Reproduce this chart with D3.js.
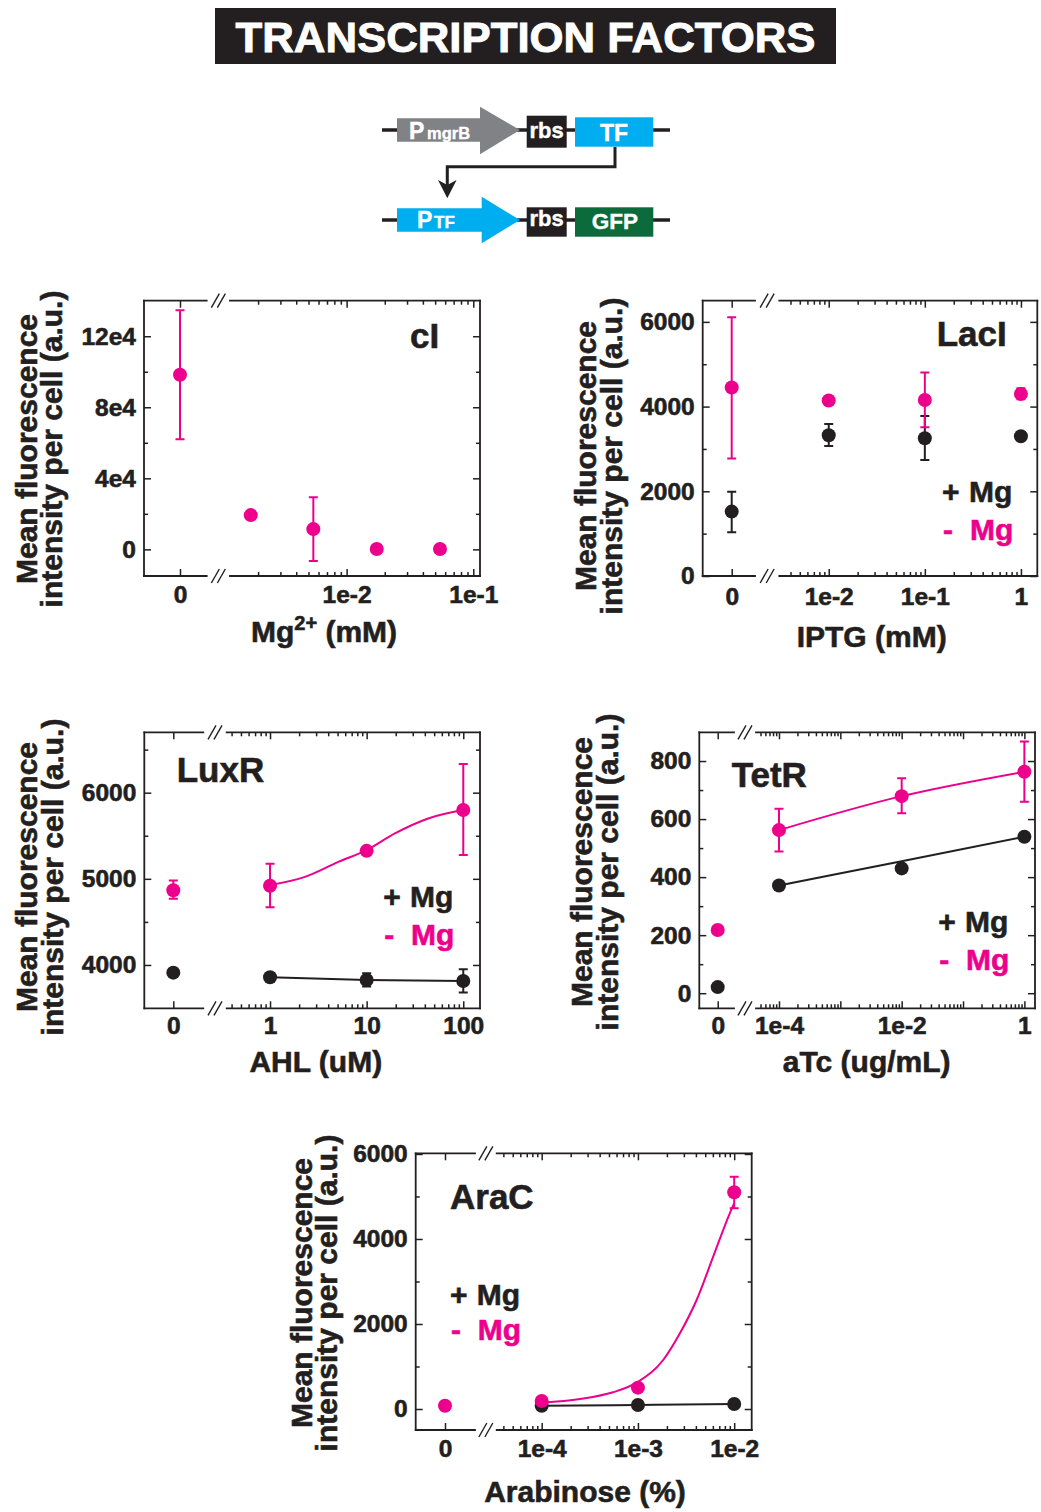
<!DOCTYPE html>
<html>
<head>
<meta charset="utf-8">
<script src="https://cdn.jsdelivr.net/npm/d3@7"></script>
<style>
body { margin: 0; background: #fff; }
svg text { font-family: "Liberation Sans", Arial, Helvetica, sans-serif; font-weight: bold; fill: #231f20; stroke: #231f20; stroke-width: 0.6px; }
</style>
</head>
<body>
<svg id="chart" width="1041" height="1512"></svg>
<script>
// ---- data ----
const pageTitle = "TRANSCRIPTION FACTORS";
const yTitleLines = ["Mean fluorescence", "intensity per cell (a.u.)"];

// cI (only one series)
const ciDose = [0, 1.75e-3, 5.46e-3, 1.73e-2, 5.46e-2];
const ciMinus = [98300, 19300, 11400, 200, 200];
const ciMinusLo = [62000, null, -6500, null, null];
const ciMinusHi = [134600, null, 29300, null, null];
const ciYTicks = [0, 40000, 80000, 120000];
const ciYLabels = ["0", "4e4", "8e4", "12e4"];
const ciYMinor = [20000, 60000, 100000];
const ciXTicks = [1e-2, 1e-1];
const ciXLabels = ["1e-2", "1e-1"];

// LacI
const lacDose = [0, 1e-2, 1e-1, 1];
const lacPlus = [1520, 3323, 3252, 3299];
const lacPlusLo = [1031, 3071, 2740, null];
const lacPlusHi = [1992, 3590, 3780, null];
const lacMinus = [4450, 4142, 4157, 4299];
const lacMinusLo = [2772, null, 3512, 4173];
const lacMinusHi = [6110, null, 4803, 4433];
const lacYTicks = [0, 2000, 4000, 6000];
const lacYLabels = ["0", "2000", "4000", "6000"];
const lacYMinor = [1000, 3000, 5000];
const lacXTicks = [1e-2, 1e-1, 1];
const lacXLabels = ["1e-2", "1e-1", "1"];

// LuxR
const luxDose = [0, 1, 10, 100];
const luxPlus = [3911, 3857, 3826, 3814];
const luxPlusLo = [null, null, 3749, 3679];
const luxPlusHi = [null, null, 3903, 3950];
const luxMinus = [4868, 4919, 5325, 5799];
const luxMinusLo = [4768, 4671, null, 5276];
const luxMinusHi = [4981, 5174, null, 6333];
const luxFitDose = [1, 2.3, 5.1, 10, 19.6, 43.4, 100];
const luxFitMinus = [4928, 5023, 5197, 5333, 5527, 5701, 5798];
const luxYTicks = [4000, 5000, 6000];
const luxYLabels = ["4000", "5000", "6000"];
const luxYMinor = [4500, 5500, 6500];
const luxXTicks = [1, 10, 100];
const luxXLabels = ["1", "10", "100"];

// TetR
const tetDose = [0, 1e-4, 1e-2, 1];
const tetPlus = [21, 371, 430, 539];
const tetMinus = [218, 562, 679, 763];
const tetMinusLo = [null, 488, 620, 660];
const tetMinusHi = [null, 636, 741, 867];
const tetFitDose = [1e-4, 1e-2, 1];
const tetFitPlus = [371, 455, 539];
const tetYTicks = [0, 200, 400, 600, 800];
const tetYLabels = ["0", "200", "400", "600", "800"];
const tetYMinor = [100, 300, 500, 700];
const tetXTicks = [1e-4, 1e-2, 1];
const tetXLabels = ["1e-4", "1e-2", "1"];

// AraC
const araDose = [0, 1e-4, 1e-3, 1e-2];
const araPlus = [null, 78, 94, 118];
const araMinus = [78, 188, 502, 5098];
const araMinusLo = [null, null, null, 4722];
const araMinusHi = [null, null, null, 5467];
const araFitDose = [1e-4, 2.5e-4, 5.5e-4, 1e-3, 1.83e-3, 2.73e-3, 4.07e-3, 6.05e-3, 9e-3, 1e-2];
const araFitMinus = [148, 235, 393, 640, 1153, 1781, 2565, 3584, 4604, 4840];
const araYTicks = [0, 2000, 4000, 6000];
const araYLabels = ["0", "2000", "4000", "6000"];
const araYMinor = [1000, 3000, 5000];
const araXTicks = [1e-4, 1e-3, 1e-2];
const araXLabels = ["1e-4", "1e-3", "1e-2"];

const PINK = "#ec008c";
const BLACK = "#231f20";

const svg = d3.select("#chart");

// ---- title ----
svg.append("rect").attr("x", 215).attr("y", 8).attr("width", 621).attr("height", 56).attr("fill", BLACK);
svg.append("text").attr("x", 525.5).attr("y", 52).attr("text-anchor", "middle")
    .attr("font-size", 42).attr("textLength", 580).attr("lengthAdjust", "spacingAndGlyphs")
    .style("fill", "#fff").style("stroke", "#fff").style("stroke-width", "0.9px").text(pageTitle);

// ---- genetic circuit schematic ----
function drawCircuit() {
    const g = svg.append("g");
    // backbones
    [130, 220].forEach(yy => g.append("line").attr("x1", 382).attr("x2", 670).attr("y1", yy).attr("y2", yy)
        .attr("stroke", BLACK).attr("stroke-width", 3.5));
    // promoter arrows
    g.append("path").attr("d", "M397,118.3H480V106.7L520,130L480,154.3V141.7H397Z").attr("fill", "#808285");
    g.append("path").attr("d", "M397,208.3H481.7V196.7L520,220L481.7,243.3V231.7H397Z").attr("fill", "#00aeef");
    // rbs boxes
    [[115.7, 147.7], [207.3, 236.7]].forEach(([a, b]) => g.append("rect").attr("x", 526.7).attr("y", a)
        .attr("width", 40).attr("height", b - a).attr("fill", BLACK));
    g.append("rect").attr("x", 575).attr("y", 117.3).attr("width", 78.3).attr("height", 29.4).attr("fill", "#00aeef");
    g.append("rect").attr("x", 575).attr("y", 207.3).attr("width", 78.3).attr("height", 29.4).attr("fill", "#0b6b3a");
    // regulation arrow
    g.append("path").attr("d", "M615,147V166.7H447.3V186").attr("fill", "none").attr("stroke", BLACK).attr("stroke-width", 3);
    g.append("path").attr("d", "M438,180L447.3,198.3L456.6,180L447.3,185Z").attr("fill", BLACK);
    // labels
    const lab = (x, y, size, txt, anchor) => g.append("text").attr("x", x).attr("y", y).attr("font-size", size)
        .attr("text-anchor", anchor || "start").style("fill", "#fff").style("stroke", "#fff").style("stroke-width", "0.4px").text(txt);
    lab(409, 138.5, 23, "P");
    lab(427, 138.5, 16.5, "mgrB");
    lab(546.7, 137.7, 22, "rbs", "middle");
    lab(614, 140.7, 23, "TF", "middle");
    lab(417, 227.7, 23, "P");
    lab(434, 227.7, 17, "TF");
    lab(546.7, 225.7, 22, "rbs", "middle");
    lab(615, 229, 22.5, "GFP", "middle");
}
drawCircuit();

// ---- panel layouts ----
const panels = [
    {
        name: "cI", box: [144, 480, 300.7, 576], zeroX: 180, gap: [206.7, 230], logDomain: [1.2e-3, 0.113],
        yDomain: [-15000, 140000], yTicks: ciYTicks, yLabels: ciYLabels, yMinor: ciYMinor,
        xTicks: ciXTicks, xLabels: ciXLabels, xPad: 10,
        title: [410, 348], xTitle: [324, 641.7], yTitle: [37, 62, 449], legend: null,
        series: [{ dose: ciDose, vals: ciMinus, lo: ciMinusLo, hi: ciMinusHi, color: PINK }],
        lines: []
    },
    {
        name: "LacI", box: [702.7, 1037.3, 300.7, 576], zeroX: 731.7, gap: [755, 779.3], logDomain: [3.06e-3, 1.48],
        yDomain: [0, 6500], yTicks: lacYTicks, yLabels: lacYLabels, yMinor: lacYMinor,
        xTicks: lacXTicks, xLabels: lacXLabels, xPad: 12,
        title: [936.7, 346], xTitle: [871.7, 646.7], yTitle: [596, 622, 456], legend: [942, 969, 501.7, 540],
        series: [
            { dose: lacDose, vals: lacPlus, lo: lacPlusLo, hi: lacPlusHi, color: BLACK },
            { dose: lacDose, vals: lacMinus, lo: lacMinusLo, hi: lacMinusHi, color: PINK }
        ],
        lines: []
    },
    {
        name: "LuxR", box: [144.3, 480, 732.3, 1008.3], zeroX: 173.3, gap: [203.3, 226.7], logDomain: [0.356, 149],
        yDomain: [3497, 6701], yTicks: luxYTicks, yLabels: luxYLabels, yMinor: luxYMinor,
        xTicks: luxXTicks, xLabels: luxXLabels, xPad: 8,
        title: [176.7, 781.7], xTitle: [315.8, 1071.7], yTitle: [37, 63, 877], legend: [383.3, 410, 906.7, 945],
        series: [
            { dose: luxDose, vals: luxPlus, lo: luxPlusLo, hi: luxPlusHi, color: BLACK },
            { dose: luxDose, vals: luxMinus, lo: luxMinusLo, hi: luxMinusHi, color: PINK }
        ],
        lines: [
            { dose: luxDose.slice(1), vals: luxPlus.slice(1), color: BLACK },
            { dose: luxFitDose, vals: luxFitMinus, color: PINK }
        ]
    },
    {
        name: "TetR", box: [699.3, 1035, 732.3, 1008.3], zeroX: 717.7, gap: [734, 756], logDomain: [4.22e-5, 1.49],
        yDomain: [-52, 899], yTicks: tetYTicks, yLabels: tetYLabels, yMinor: tetYMinor,
        xTicks: tetXTicks, xLabels: tetXLabels, xPad: 8,
        title: [731.7, 786.7], xTitle: [866.7, 1071.7], yTitle: [592, 618, 872], legend: [938.3, 965, 931.7, 970],
        series: [
            { dose: tetDose, vals: tetPlus, lo: null, hi: null, color: BLACK },
            { dose: tetDose, vals: tetMinus, lo: tetMinusLo, hi: tetMinusHi, color: PINK }
        ],
        lines: [
            { dose: tetFitDose, vals: tetFitPlus, color: BLACK },
            { dose: tetDose.slice(1), vals: tetMinus.slice(1), color: PINK }
        ]
    },
    {
        name: "AraC", box: [415.7, 751.7, 1153.3, 1430], zeroX: 445, gap: [475, 496.7], logDomain: [3.41e-5, 1.52e-2],
        yDomain: [-494, 6016], yTicks: araYTicks, yLabels: araYLabels, yMinor: araYMinor,
        xTicks: araXTicks, xLabels: araXLabels, xPad: 10,
        title: [450, 1209.3], xTitle: [585, 1501.7], yTitle: [312, 337, 1293], legend: [450, 476.7, 1305, 1340],
        series: [
            { dose: araDose, vals: araPlus, lo: null, hi: null, color: BLACK },
            { dose: araDose, vals: araMinus, lo: araMinusLo, hi: araMinusHi, color: PINK }
        ],
        lines: [
            { dose: araDose.slice(1), vals: araPlus.slice(1), color: BLACK },
            { dose: araFitDose, vals: araFitMinus, color: PINK }
        ]
    }
];

const xAxisTitles = {
    LacI: "IPTG (mM)", LuxR: "AHL (uM)", TetR: "aTc (ug/mL)", AraC: "Arabinose (%)"
};

function styleAxis(sel, size) {
    sel.select(".domain").remove();
    sel.attr("font-family", null).attr("font-size", size || 24.5);
    sel.selectAll("line").attr("stroke", BLACK).attr("stroke-width", 1.5);
}

function drawPanel(p) {
    const g = svg.append("g");
    const [x0, x1, y0, y1] = p.box;
    const y = d3.scaleLinear().domain(p.yDomain).range([y1, y0]);
    const xLog = d3.scaleLog().domain(p.logDomain).range([p.gap[1], x1]);
    const xZero = d3.scaleLinear().domain([-1, 1]).range([x0, 2 * p.zeroX - x0]);
    const x = d => d === 0 ? xZero(0) : xLog(d);

    // frame with axis breaks
    const frame = [
        [x0, y0, x0, y1], [x1, y0, x1, y1],
        [x0, y0, p.gap[0], y0], [p.gap[1], y0, x1, y0],
        [x0, y1, p.gap[0], y1], [p.gap[1], y1, x1, y1]
    ];
    frame.forEach(f => g.append("line").attr("x1", f[0]).attr("y1", f[1]).attr("x2", f[2]).attr("y2", f[3])
        .attr("stroke", BLACK).attr("stroke-width", 1.8).attr("stroke-linecap", "square"));
    const cx = (p.gap[0] + p.gap[1]) / 2;
    [y0, y1].forEach(yy => [-3, 3].forEach(d => g.append("line")
        .attr("x1", cx + d - 4).attr("y1", yy + 7).attr("x2", cx + d + 4).attr("y2", yy - 7)
        .attr("stroke", BLACK).attr("stroke-width", 1.4)));

    // y axes (left labelled, right mirrored), ticks inward
    g.append("g").attr("transform", `translate(${x0},0)`)
        .call(d3.axisLeft(y).tickValues(p.yTicks).tickFormat((d, i) => p.yLabels[i]).tickSize(-7).tickPadding(8))
        .call(styleAxis);
    g.append("g").attr("transform", `translate(${x0},0)`)
        .call(d3.axisLeft(y).tickValues(p.yMinor).tickFormat("").tickSize(-4)).call(styleAxis);
    g.append("g").attr("transform", `translate(${x1},0)`)
        .call(d3.axisRight(y).tickValues(p.yTicks).tickFormat("").tickSize(-7)).call(styleAxis);
    g.append("g").attr("transform", `translate(${x1},0)`)
        .call(d3.axisRight(y).tickValues(p.yMinor).tickFormat("").tickSize(-4)).call(styleAxis);

    // x axes: log segment + zero point
    const allTicks = xLog.ticks();
    const isDecade = d => Math.abs(Math.log10(d) - Math.round(Math.log10(d))) < 1e-6;
    const decades = allTicks.filter(isDecade);
    const minors = allTicks.filter(d => !isDecade(d));
    const fmt = d => {
        const i = p.xTicks.findIndex(t => Math.abs(Math.log10(t) - Math.log10(d)) < 1e-6);
        return i >= 0 ? p.xLabels[i] : "";
    };
    g.append("g").attr("transform", `translate(0,${y1})`)
        .call(d3.axisBottom(xLog).tickValues(decades).tickFormat(fmt).tickSize(-7).tickPadding(p.xPad)).call(styleAxis);
    g.append("g").attr("transform", `translate(0,${y1})`)
        .call(d3.axisBottom(xLog).tickValues(minors).tickFormat("").tickSize(-4)).call(styleAxis);
    g.append("g").attr("transform", `translate(0,${y1})`)
        .call(d3.axisBottom(xZero).tickValues([0]).tickFormat(() => "0").tickSize(-7).tickPadding(p.xPad)).call(styleAxis);
    g.append("g").attr("transform", `translate(0,${y0})`)
        .call(d3.axisTop(xLog).tickValues(decades).tickFormat("").tickSize(-7)).call(styleAxis);
    g.append("g").attr("transform", `translate(0,${y0})`)
        .call(d3.axisTop(xLog).tickValues(minors).tickFormat("").tickSize(-4)).call(styleAxis);
    g.append("g").attr("transform", `translate(0,${y0})`)
        .call(d3.axisTop(xZero).tickValues([0]).tickFormat("").tickSize(-7)).call(styleAxis);

    // fit / connecting lines
    const line = d3.line().x(r => x(r.d)).y(r => y(r.v)).curve(d3.curveMonotoneX);
    p.lines.forEach(l => {
        const rows = l.dose.map((d, i) => ({ d, v: l.vals[i] }));
        g.append("path").datum(rows).attr("d", line).attr("fill", "none")
            .attr("stroke", l.color).attr("stroke-width", 2);
    });

    // error bars then markers
    p.series.forEach(s => {
        const rows = s.dose.map((d, i) => ({ d, v: s.vals[i], lo: s.lo ? s.lo[i] : null, hi: s.hi ? s.hi[i] : null }))
            .filter(r => r.v != null);
        g.append("g").selectAll("path").data(rows.filter(r => r.lo != null)).join("path")
            .attr("d", r => `M${x(r.d)},${y(r.lo)}V${y(r.hi)}M${x(r.d) - 4.5},${y(r.lo)}h9M${x(r.d) - 4.5},${y(r.hi)}h9`)
            .attr("stroke", s.color).attr("stroke-width", 2).attr("fill", "none");
        s.rows = rows;
    });
    p.series.forEach(s => {
        g.append("g").selectAll("circle").data(s.rows).join("circle")
            .attr("cx", r => x(r.d)).attr("cy", r => y(r.v)).attr("r", 7).attr("fill", s.color);
    });

    // texts
    g.append("text").attr("x", p.title[0]).attr("y", p.title[1]).attr("font-size", 35).text(p.name);
    const xt = g.append("text").attr("x", p.xTitle[0]).attr("y", p.xTitle[1]).attr("font-size", 30)
        .attr("text-anchor", "middle");
    if (p.name === "cI") {
        xt.append("tspan").text("Mg");
        xt.append("tspan").attr("font-size", 20).attr("dy", -12).text("2+");
        xt.append("tspan").attr("dy", 12).text(" (mM)");
    } else {
        xt.text(xAxisTitles[p.name]);
    }
    [p.yTitle[0], p.yTitle[1]].forEach((bx, i) => g.append("text")
        .attr("transform", `translate(${bx},${p.yTitle[2]}) rotate(-90)`)
        .attr("text-anchor", "middle").attr("font-size", 30).text(yTitleLines[i]));

    if (p.legend) {
        const [sx, mx, ya, yb] = p.legend;
        g.append("text").attr("x", sx).attr("y", ya).attr("font-size", 30).text("+");
        g.append("text").attr("x", mx).attr("y", ya).attr("font-size", 30).text("Mg");
        g.append("text").attr("x", sx + 1).attr("y", yb).attr("font-size", 30)
            .style("fill", PINK).style("stroke", PINK).text("-");
        g.append("text").attr("x", mx + 1).attr("y", yb).attr("font-size", 30)
            .style("fill", PINK).style("stroke", PINK).text("Mg");
    }
}

panels.forEach(drawPanel);
</script>
</body>
</html>
